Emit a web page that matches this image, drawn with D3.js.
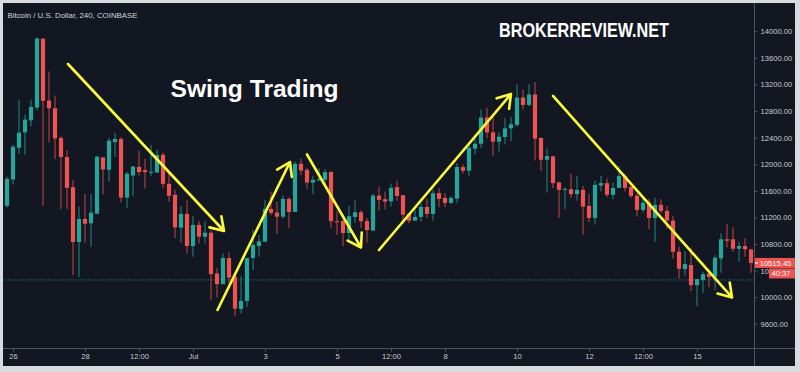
<!DOCTYPE html>
<html>
<head>
<meta charset="utf-8">
<script src="https://cdn.jsdelivr.net/npm/d3@7"></script>
<style>
  html, body { margin: 0; padding: 0; background: #d9dadd; }
  svg { display: block; }
  text { font-family: "Liberation Sans", Arial, sans-serif; }
</style>
</head>
<body>
<svg id="chart"></svg>
<script>
// 4h BTC/USD candles, first bar opens Jun 25 20:00
const firstBar = '2020-06-25T20:00:00Z';
const barHours = 4;

const opens = [11374, 11771, 12249, 12480, 12661, 12853, 13890, 12958, 12842, 12395,
  12109, 11656, 10830, 11177, 11112, 11257, 12103, 11917, 12335, 12380,
  11499, 11831, 11962, 11912, 11882, 11876, 12143, 11706, 11540, 11046,
  11253, 10770, 11087, 10910, 10970, 10357, 10196, 10589, 10307, 9824,
  9944, 10589, 10770, 10835, 11328, 11272, 11212, 11479, 11283, 12007,
  11917, 11725, 11756, 11766, 11882, 11143, 11147, 10966, 11208, 11278,
  11147, 11001, 11529, 11475, 11444, 11656, 11535, 11253, 11152, 11208,
  11358, 11253, 11565, 11494, 11419, 11484, 11958, 11902, 12234, 12309,
  12702, 12480, 12340, 12410, 12540, 12592, 13004, 12893, 13049, 12395,
  12068, 12118, 11725, 11620, 11625, 11550, 11615, 11374, 11192, 11680,
  11716, 11540, 11645, 11822, 11660, 11525, 11313, 11423, 11192, 11389,
  11298, 11152, 10684, 10423, 10483, 10181, 10257, 10357, 10306, 10584,
  10871, 10871, 10729, 10770, 10720];
const highs = [11816, 12290, 12974, 12747, 12974, 13909, 13890, 13396, 13034, 12430,
  12208, 11766, 11363, 11555, 11555, 12128, 12103, 12395, 12471, 12410,
  11887, 11967, 12204, 12083, 12290, 12219, 12178, 11867, 11615, 11369,
  11454, 11223, 11147, 11142, 11001, 10433, 10660, 10675, 10307, 10317,
  10589, 11011, 10936, 11464, 11589, 11434, 11529, 11505, 12038, 12083,
  11942, 11826, 11942, 11927, 11902, 11294, 11173, 11373, 11460, 11313,
  11192, 11555, 11660, 11589, 11706, 11751, 11535, 11263, 11313, 11414,
  11479, 11615, 11641, 11565, 11525, 12018, 11997, 12309, 12420, 12823,
  12848, 12722, 12480, 12697, 12712, 13204, 13124, 13204, 13235, 12405,
  12234, 12128, 11741, 11656, 11857, 11826, 11675, 11555, 11755, 11826,
  11786, 11725, 11967, 11857, 11665, 11565, 11490, 11475, 11499, 11475,
  11373, 11223, 10759, 10694, 10744, 10272, 10382, 10418, 10634, 10961,
  11102, 11052, 10835, 10886, 10725];
const lows = [11348, 11695, 12158, 12139, 12571, 12812, 11374, 12329, 12078, 11324,
  11324, 10332, 10306, 10820, 10759, 11257, 11544, 11740, 12109, 11423,
  11339, 11525, 11831, 11635, 11826, 11867, 11635, 11434, 10886, 10820,
  10660, 10608, 10810, 10810, 9955, 9995, 10196, 10207, 9713, 9754,
  9854, 10408, 10608, 10835, 11233, 10951, 11182, 11041, 11283, 11837,
  11630, 11550, 11756, 11686, 11041, 10936, 10770, 10860, 11122, 11041,
  10820, 11001, 11303, 11324, 11363, 11449, 11112, 11112, 11152, 11137,
  11192, 11152, 11354, 11354, 11404, 11414, 11857, 11826, 12148, 12249,
  12395, 12128, 12189, 12299, 12344, 12561, 12823, 12872, 12057, 11902,
  11574, 11641, 11192, 11324, 11490, 11454, 10936, 11132, 11092, 11589,
  11505, 11475, 11645, 11589, 11490, 11212, 11272, 11022, 10830, 11263,
  11031, 10578, 10276, 10317, 10095, 9864, 10065, 10146, 10106, 10367,
  10750, 10684, 10533, 10608, 10367];
const closes = [11781, 12264, 12475, 12672, 12863, 13890, 12954, 12842, 12389, 12109,
  11645, 10830, 11177, 11106, 11272, 12113, 11921, 12355, 12380, 11499,
  11857, 11967, 11882, 11882, 11887, 12139, 11706, 11525, 11052, 11253,
  10770, 11087, 10910, 10970, 10347, 10196, 10589, 10297, 9829, 9944,
  10589, 10785, 10841, 11328, 11268, 11212, 11479, 11283, 12007, 11906,
  11725, 11766, 11776, 11882, 11143, 11128, 10966, 11218, 11278, 11143,
  11011, 11529, 11464, 11439, 11645, 11525, 11242, 11152, 11208, 11358,
  11253, 11565, 11479, 11419, 11494, 11958, 11902, 12249, 12309, 12702,
  12480, 12340, 12415, 12540, 12601, 13004, 12893, 13049, 12385, 12068,
  12123, 11716, 11615, 11630, 11550, 11615, 11363, 11192, 11691, 11716,
  11540, 11645, 11822, 11645, 11525, 11313, 11423, 11192, 11389, 11298,
  11152, 10684, 10427, 10498, 10181, 10272, 10347, 10306, 10593, 10871,
  10850, 10729, 10770, 10720, 10515.45];

const lastPrice = 10515.45;
const countdown = '40:37';
const sessionLine = 10260;

const priceTicks = [9600, 10000, 10400, 10800, 11200, 11600, 12000, 12400, 12800, 13200, 13600, 14000];
const timeTicks = ['2020-06-26T00:00:00Z', '2020-06-28T00:00:00Z', '2020-06-29T12:00:00Z',
  '2020-07-01T00:00:00Z', '2020-07-03T00:00:00Z', '2020-07-05T00:00:00Z', '2020-07-06T12:00:00Z',
  '2020-07-08T00:00:00Z', '2020-07-10T00:00:00Z', '2020-07-12T00:00:00Z', '2020-07-13T12:00:00Z',
  '2020-07-15T00:00:00Z'];
const timeTickLabels = ['26', '28', '12:00', 'Jul', '3', '5', '12:00', '8', '10', '12', '12:00', '15'];

// swing arrows drawn on the chart: [time, price] -> [time, price]
const arrowStarts = [['2020-06-27T12:40:00Z', 13508], ['2020-07-01T16:20:00Z', 9808],
  ['2020-07-04T04:00:00Z', 12147], ['2020-07-06T04:00:00Z', 10710], ['2020-07-11T00:00:00Z', 13027]];
const arrowEnds = [['2020-07-01T20:40:00Z', 10996], ['2020-07-03T16:40:00Z', 12034],
  ['2020-07-05T16:00:00Z', 10748], ['2020-07-09T20:00:00Z', 13057], ['2020-07-15T23:20:00Z', 9996]];

const symbolTitle = 'Bitcoin / U.S. Dollar, 240, COINBASE';
const headline = 'Swing Trading';
const brand = 'BROKERREVIEW.NET';

class CandleChart {

  constructor(_config) {
    this.config = {
      parentElement: _config.parentElement,
      containerWidth: 800,
      containerHeight: 372,
      panel: { left: 3, top: 3, right: 795, bottom: 366 },
      plotRight: 754,
      plotBottom: 348,
      upColor: '#26a69a',
      downColor: '#ef5350',
      gridText: '#c9ccd4',
      lineColor: '#50535e',
      arrowColor: '#fbfb3a'
    };
    this.initVis();
  }

  initVis() {
    let vis = this;
    const c = vis.config;

    vis.data = opens.map((o, i) => ({
      date: d3.utcHour.offset(new Date(firstBar), i * barHours),
      open: o, high: highs[i], low: lows[i], close: closes[i]
    }));

    vis.xScale = d3.scaleUtc()
      .domain([new Date('2020-06-26T00:00:00Z'), new Date('2020-07-15T00:00:00Z')])
      .range([13, 697]);

    vis.yScale = d3.scaleLinear()
      .domain([9600, 14000])
      .range([323.8, 31.3]);

    vis.svg = d3.select(c.parentElement)
      .attr('width', c.containerWidth)
      .attr('height', c.containerHeight);

    vis.svg.append('rect')
      .attr('x', c.panel.left)
      .attr('y', c.panel.top)
      .attr('width', c.panel.right - c.panel.left)
      .attr('height', c.panel.bottom - c.panel.top)
      .attr('fill', '#131722');

    vis.svg.append('clipPath')
      .attr('id', 'plot-clip')
      .append('rect')
      .attr('x', c.panel.left)
      .attr('y', c.panel.top)
      .attr('width', c.plotRight - c.panel.left)
      .attr('height', c.plotBottom - c.panel.top);

    vis.plot = vis.svg.append('g').attr('clip-path', 'url(#plot-clip)');

    // frame lines for the price and time scales
    vis.svg.append('line')
      .attr('x1', c.plotRight + 0.5).attr('x2', c.plotRight + 0.5)
      .attr('y1', c.panel.top).attr('y2', c.panel.bottom)
      .attr('stroke', c.lineColor);
    vis.svg.append('line')
      .attr('x1', c.panel.left).attr('x2', c.panel.right)
      .attr('y1', c.plotBottom + 0.5).attr('y2', c.plotBottom + 0.5)
      .attr('stroke', c.lineColor);

    vis.yAxis = d3.axisRight(vis.yScale)
      .tickValues(priceTicks)
      .tickFormat(d3.format('.2f'))
      .tickSize(3)
      .tickPadding(3);

    vis.xAxis = d3.axisBottom(vis.xScale)
      .tickValues(timeTicks.map(d => new Date(d)))
      .tickFormat((d, i) => timeTickLabels[i])
      .tickSize(3)
      .tickPadding(2);

    vis.yAxisG = vis.svg.append('g')
      .attr('class', 'axis y-axis')
      .attr('transform', `translate(${c.plotRight + 0.5},0)`);

    vis.xAxisG = vis.svg.append('g')
      .attr('class', 'axis x-axis')
      .attr('transform', `translate(0,${c.plotBottom + 0.5})`);

    vis.svg.append('text')
      .attr('x', 7.5)
      .attr('y', 18)
      .attr('font-size', 7.6)
      .attr('fill', '#d1d4dc')
      .attr('textLength', 130)
      .attr('lengthAdjust', 'spacingAndGlyphs')
      .text(symbolTitle);

    vis.svg.append('text')
      .attr('x', 170.5)
      .attr('y', 96.5)
      .attr('font-size', 23)
      .attr('font-weight', 'bold')
      .attr('fill', '#ffffff')
      .attr('textLength', 168)
      .attr('lengthAdjust', 'spacingAndGlyphs')
      .text(headline);

    vis.svg.append('text')
      .attr('x', 499)
      .attr('y', 36.7)
      .attr('font-family', '"DejaVu Sans Condensed", "DejaVu Sans", sans-serif')
      .attr('font-size', 20.5)
      .attr('font-weight', 'bold')
      .attr('fill', '#ffffff')
      .attr('textLength', 170)
      .attr('lengthAdjust', 'spacingAndGlyphs')
      .text(brand);

    vis.renderVis();
  }

  renderVis() {
    let vis = this;
    const c = vis.config;
    const colorOf = d => d.close >= d.open ? c.upColor : c.downColor;
    const bodyW = 4.2;

    // dotted session line
    vis.plot.append('line')
      .attr('x1', c.panel.left).attr('x2', c.plotRight)
      .attr('y1', vis.yScale(sessionLine)).attr('y2', vis.yScale(sessionLine))
      .attr('stroke', c.upColor)
      .attr('stroke-opacity', 0.75)
      .attr('stroke-dasharray', '1,1.5');

    vis.plot.selectAll('.wick')
      .data(vis.data)
      .join('line')
      .attr('class', 'wick')
      .attr('x1', d => vis.xScale(d.date))
      .attr('x2', d => vis.xScale(d.date))
      .attr('y1', d => vis.yScale(d.high))
      .attr('y2', d => vis.yScale(d.low))
      .attr('stroke', colorOf)
      .attr('stroke-opacity', 0.8)
      .attr('stroke-width', 1);

    vis.plot.selectAll('.body')
      .data(vis.data)
      .join('rect')
      .attr('class', 'body')
      .attr('x', d => vis.xScale(d.date) - bodyW / 2)
      .attr('width', bodyW)
      .attr('y', d => vis.yScale(Math.max(d.open, d.close)))
      .attr('height', d => Math.max(1, Math.abs(vis.yScale(d.open) - vis.yScale(d.close))))
      .attr('fill', colorOf);

    // swing arrows
    const arrowData = arrowStarts.map((s, i) => ({
      x1: vis.xScale(new Date(s[0])), y1: vis.yScale(s[1]),
      x2: vis.xScale(new Date(arrowEnds[i][0])), y2: vis.yScale(arrowEnds[i][1])
    }));
    const head = 15, spread = 33 * Math.PI / 180;
    const arrowG = vis.plot.selectAll('.arrow')
      .data(arrowData)
      .join('g')
      .attr('class', 'arrow');
    arrowG.append('path')
      .attr('d', d => {
        const back = Math.atan2(d.y1 - d.y2, d.x1 - d.x2);
        const a1 = [d.x2 + head * Math.cos(back + spread), d.y2 + head * Math.sin(back + spread)];
        const a2 = [d.x2 + head * Math.cos(back - spread), d.y2 + head * Math.sin(back - spread)];
        return `M${d.x1},${d.y1}L${d.x2},${d.y2}M${a1[0]},${a1[1]}L${d.x2},${d.y2}L${a2[0]},${a2[1]}`;
      })
      .attr('fill', 'none')
      .attr('stroke', c.arrowColor)
      .attr('stroke-width', 2.6)
      .attr('stroke-linecap', 'round')
      .attr('stroke-linejoin', 'round');

    vis.yAxisG.call(vis.yAxis)
      .call(g => g.select('.domain').remove())
      .call(g => g.selectAll('line').attr('stroke', c.lineColor))
      .call(g => g.selectAll('text')
        .attr('fill', c.gridText)
        .attr('font-size', 7.6)
        .attr('font-family', '"Liberation Sans", Arial, sans-serif'));

    vis.xAxisG.call(vis.xAxis)
      .call(g => g.select('.domain').remove())
      .call(g => g.selectAll('line').attr('stroke', c.lineColor))
      .call(g => g.selectAll('text')
        .attr('fill', c.gridText)
        .attr('font-size', 7.6)
        .attr('font-family', '"Liberation Sans", Arial, sans-serif'));

    // last price + bar countdown labels
    const py = vis.yScale(lastPrice);
    vis.svg.append('rect')
      .attr('x', c.plotRight + 1).attr('y', py - 5)
      .attr('width', c.panel.right - c.plotRight - 1).attr('height', 10)
      .attr('fill', c.downColor);
    vis.svg.append('line')
      .attr('x1', c.plotRight + 1).attr('x2', c.plotRight + 4)
      .attr('y1', py).attr('y2', py)
      .attr('stroke', '#ffffff');
    vis.svg.append('text')
      .attr('x', 775.5).attr('y', py + 2.8)
      .attr('text-anchor', 'middle')
      .attr('font-size', 7.6)
      .attr('fill', '#ffffff')
      .text(d3.format('.2f')(lastPrice));
    vis.svg.append('rect')
      .attr('x', 769).attr('y', py + 5.5)
      .attr('width', c.panel.right - 769).attr('height', 10)
      .attr('fill', c.downColor);
    vis.svg.append('text')
      .attr('x', 781).attr('y', py + 13.3)
      .attr('text-anchor', 'middle')
      .attr('font-size', 7.6)
      .attr('fill', '#ffffff')
      .text(countdown);
  }
}

new CandleChart({ parentElement: '#chart' });
</script>
</body>
</html>
